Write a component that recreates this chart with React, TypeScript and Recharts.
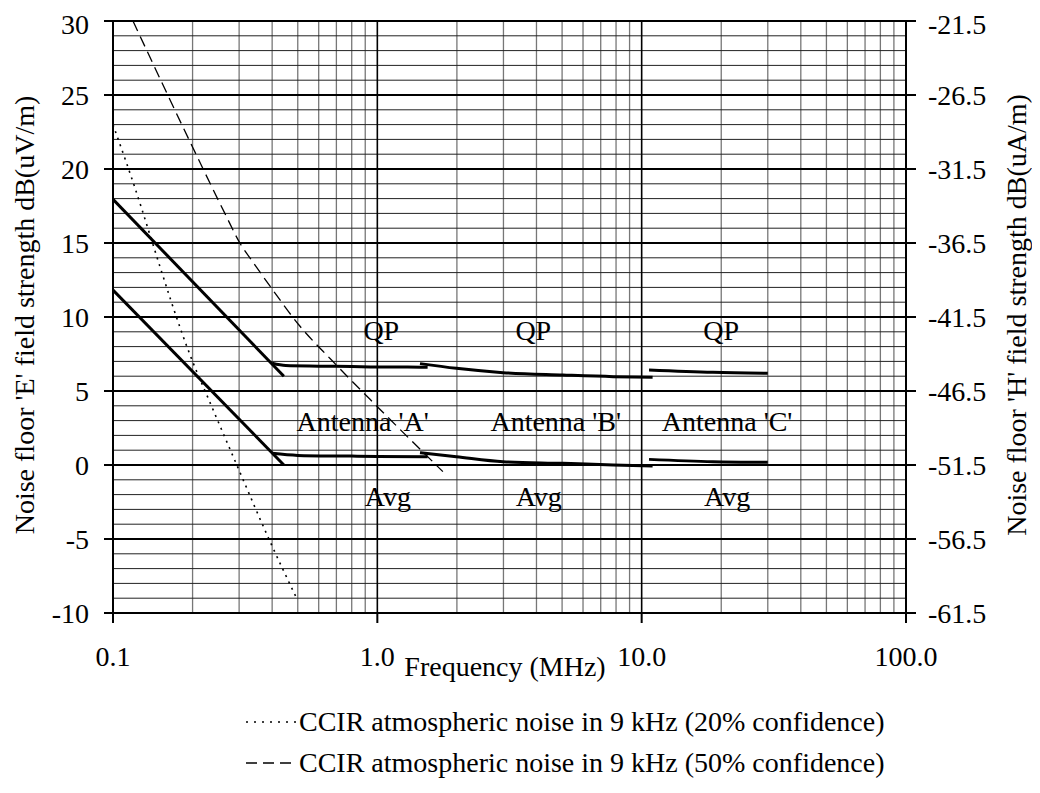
import {
  LineChart,
  Line,
  XAxis,
  YAxis,
  ReferenceLine,
  ReferenceDot,
} from "recharts";

const FONT = "Liberation Serif, Tinos, Times New Roman, DejaVu Serif, serif";
const FS = 28;

// CCIR atmospheric noise curves (frequency MHz, dB uV/m)
const ccir20 = [
  { f: 0.1, v: 23.0 },
  { f: 0.128, v: 17.4 },
  { f: 0.136, v: 15.9 },
  { f: 0.201, v: 6.9 },
  { f: 0.228, v: 4.6 },
  { f: 0.294, v: 0.0 },
  { f: 0.398, v: -5.4 },
  { f: 0.495, v: -9.0 },
];
const ccir50 = [
  { f: 0.119, v: 30.0 },
  { f: 0.201, v: 21.4 },
  { f: 0.265, v: 17.0 },
  { f: 0.302, v: 15.0 },
  { f: 0.334, v: 13.85 },
  { f: 0.398, v: 11.94 },
  { f: 0.509, v: 9.39 },
  { f: 0.671, v: 7.09 },
  { f: 1.0, v: 3.94 },
  { f: 1.77, v: -0.45 },
];

// measured noise floor, quasi-peak
const qpSlope = [
  { f: 0.1, v: 17.95 },
  { f: 0.443, v: 6.0 },
];
const qpA = [
  { f: 0.4, v: 6.87 },
  { f: 0.45, v: 6.72 },
  { f: 0.6, v: 6.68 },
  { f: 0.8, v: 6.65 },
  { f: 1.0, v: 6.62 },
  { f: 1.3, v: 6.62 },
  { f: 1.55, v: 6.6 },
];
const qpB = [
  { f: 1.45, v: 6.85 },
  { f: 1.99, v: 6.53 },
  { f: 2.99, v: 6.24 },
  { f: 5.04, v: 6.08 },
  { f: 7.8, v: 5.97 },
  { f: 11.0, v: 5.93 },
];
const qpC = [
  { f: 10.66, v: 6.42 },
  { f: 18.6, v: 6.26 },
  { f: 30.0, v: 6.2 },
];

// measured noise floor, average
const avgSlope = [
  { f: 0.1, v: 11.82 },
  { f: 0.443, v: 0.0 },
];
const avgA = [
  { f: 0.4, v: 0.79 },
  { f: 0.5, v: 0.65 },
  { f: 0.8, v: 0.6 },
  { f: 1.0, v: 0.57 },
  { f: 1.55, v: 0.55 },
];
const avgB = [
  { f: 1.45, v: 0.83 },
  { f: 1.99, v: 0.56 },
  { f: 2.99, v: 0.22 },
  { f: 5.04, v: 0.11 },
  { f: 7.8, v: 0.0 },
  { f: 11.0, v: -0.07 },
];
const avgC = [
  { f: 10.66, v: 0.38 },
  { f: 18.6, v: 0.22 },
  { f: 30.0, v: 0.18 },
];

const xTicks = [0.1, 1, 10, 100];
const xMinor = [
  0.2, 0.3, 0.4, 0.5, 0.6, 0.7, 0.8, 0.9, 2, 3, 4, 5, 6, 7, 8, 9, 20, 30, 40,
  50, 60, 70, 80, 90,
];
const xDecades = [1, 10];
const yTicks = [-10, -5, 0, 5, 10, 15, 20, 25, 30];
const yMinor = [
  -9, -8, -7, -6, -4, -3, -2, -1, 1, 2, 3, 4, 6, 7, 8, 9, 11, 12, 13, 14, 16,
  17, 18, 19, 21, 22, 23, 24, 26, 27, 28, 29,
];
const hTicks = [-61.5, -56.5, -51.5, -46.5, -41.5, -36.5, -31.5, -26.5, -21.5];

const notes = [
  { f: 1.035, v: 9.1, text: "QP" },
  { f: 3.89, v: 9.1, text: "QP" },
  { f: 20.0, v: 9.1, text: "QP" },
  { f: 0.88, v: 3.0, text: "Antenna 'A'" },
  { f: 4.73, v: 3.0, text: "Antenna 'B'" },
  { f: 21.05, v: 3.0, text: "Antenna 'C'" },
  { f: 1.096, v: -2.1, text: "Avg" },
  { f: 4.08, v: -2.1, text: "Avg" },
  { f: 21.05, v: -2.1, text: "Avg" },
];

const legendItems = [
  { text: "CCIR atmospheric noise in 9 kHz (20% confidence)", dash: "2 6" },
  { text: "CCIR atmospheric noise in 9 kHz (50% confidence)", dash: "11 6" },
];

const solid = [qpSlope, qpA, qpB, qpC, avgSlope, avgA, avgB, avgC];

export default function App() {
  const tickStyle = { fill: "#000", fontSize: FS, fontFamily: FONT };

  return (
    <div style={{ position: "relative", width: 1024, height: 777, fontFamily: FONT }}>
      <LineChart
        width={1024}
        height={700}
        margin={{ top: 13, right: 0, left: 0, bottom: 35 }}
        style={{ fontFamily: FONT }}
      >
        <XAxis
          type="number"
          dataKey="f"
          scale="log"
          domain={[0.1, 100]}
          ticks={xTicks}
          allowDataOverflow
          tickFormatter={(v: number) => v.toFixed(1)}
          tickSize={10}
          tickMargin={23}
          height={60}
          stroke="#000"
          strokeWidth={2}
          tick={tickStyle}
        />
        <YAxis
          yAxisId="l"
          type="number"
          domain={[-10, 30]}
          ticks={yTicks}
          allowDataOverflow
          width={105}
          tickSize={9}
          tickMargin={15}
          stroke="#000"
          strokeWidth={2}
          tick={tickStyle}
        />
        <YAxis
          yAxisId="r"
          orientation="right"
          type="number"
          domain={[-61.5, -21.5]}
          ticks={hTicks}
          allowDataOverflow
          width={126}
          tickSize={10}
          tickMargin={12}
          tickFormatter={(v: number) => v.toFixed(1)}
          stroke="#000"
          strokeWidth={2}
          tick={tickStyle}
        />

        {xMinor.map((x) => (
          <ReferenceLine key={"xm" + x} x={x} yAxisId="l" stroke="#777" strokeWidth={1.3} />
        ))}
        {yMinor.map((y) => (
          <ReferenceLine key={"ym" + y} y={y} yAxisId="l" stroke="#222" strokeWidth={1} />
        ))}
        {xDecades.map((x) => (
          <ReferenceLine key={"xd" + x} x={x} yAxisId="l" stroke="#000" strokeWidth={1.6} />
        ))}
        {yTicks.map((y) => (
          <ReferenceLine key={"yd" + y} y={y} yAxisId="l" stroke="#000" strokeWidth={2} />
        ))}

        <Line
          data={ccir20}
          dataKey="v"
          yAxisId="l"
          type="monotone"
          stroke="#000"
          strokeWidth={1.6}
          strokeDasharray="2 5"
          dot={false}
          isAnimationActive={false}
        />
        <Line
          data={ccir50}
          dataKey="v"
          yAxisId="l"
          type="monotone"
          stroke="#000"
          strokeWidth={1.3}
          strokeDasharray="11 6"
          dot={false}
          isAnimationActive={false}
        />
        {solid.map((d, i) => (
          <Line
            key={"s" + i}
            data={d}
            dataKey="v"
            yAxisId="l"
            type="monotone"
            stroke="#000"
            strokeWidth={3}
            dot={false}
            isAnimationActive={false}
          />
        ))}

        {notes.map((n, i) => (
          <ReferenceDot
            key={"n" + i}
            x={n.f}
            y={n.v}
            yAxisId="l"
            r={0}
            stroke="none"
            fill="none"
            label={{
              value: n.text,
              position: "center",
              fill: "#000",
              fontSize: FS,
              fontFamily: FONT,
            }}
          />
        ))}

        <text
          x={16}
          y={307}
          transform="rotate(-90 16 307)"
          textAnchor="middle"
          dominantBaseline="central"
          fontSize={FS}
          fontFamily={FONT}
          fill="#000"
        >
          Noise floor 'E' field strength dB(uV/m)
        </text>
        <text
          x={1008}
          y={307}
          transform="rotate(-90 1008 307)"
          textAnchor="middle"
          dominantBaseline="central"
          fontSize={FS}
          fontFamily={FONT}
          fill="#000"
        >
          Noise floor 'H' field strength dB(uA/m)
        </text>
        <text
          x={497}
          y={658}
          textAnchor="middle"
          dominantBaseline="central"
          fontSize={FS}
          fontFamily={FONT}
          fill="#000"
        >
          Frequency (MHz)
        </text>
      </LineChart>

      {legendItems.map((it, i) => (
        <div
          key={it.text}
          style={{
            position: "absolute",
            left: 237,
            top: 699 + i * 41,
            height: 30,
            display: "flex",
            alignItems: "center",
            fontSize: FS,
            color: "#000",
            whiteSpace: "nowrap",
          }}
        >
          <svg width={52} height={30}>
            <line x1={1} y1={15} x2={51} y2={15} stroke="#000" strokeWidth={1.5} strokeDasharray={it.dash} />
          </svg>
          <span style={{ marginLeft: 2 }}>{it.text}</span>
        </div>
      ))}
    </div>
  );
}
